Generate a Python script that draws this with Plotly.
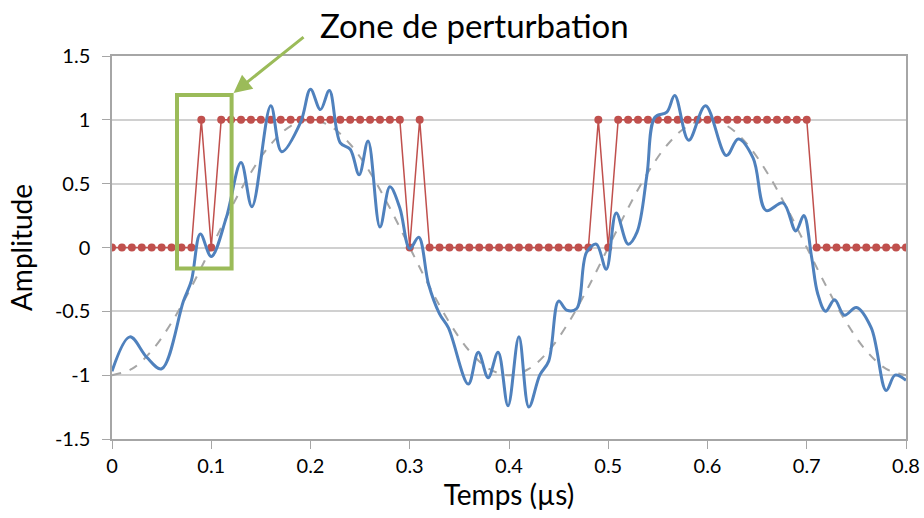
import plotly.graph_objects as go

# sampled square signal (red), every 0.01 us
t_red = [i / 100 for i in range(81)]
red_vals = ([0] * 9 + [1, 0] + [1] * 19 + [0, 1] + [0] * 17 + [1, 0] + [1] * 20 + [0] * 10)

# reference sine (gray dashed), every 0.02 us
t_ref = [i / 50 for i in range(41)]
ref_vals = [-1, -0.951, -0.809, -0.588, -0.309, 0, 0.309, 0.588, 0.809, 0.951,
            1, 0.951, 0.809, 0.588, 0.309, 0, -0.309, -0.588, -0.809, -0.951,
            -1, -0.951, -0.809, -0.588, -0.309, 0, 0.309, 0.588, 0.809, 0.951,
            1, 0.951, 0.809, 0.588, 0.309, 0, -0.309, -0.588, -0.809, -0.951, -1]

# noisy signal (blue)
t_blue = [0, 0.018, 0.035, 0.05, 0.072, 0.08, 0.089, 0.1, 0.115, 0.13, 0.141, 0.16,
          0.171, 0.19, 0.2, 0.21, 0.219, 0.23, 0.24, 0.249, 0.258, 0.27, 0.28, 0.29,
          0.3, 0.309, 0.319, 0.33, 0.339, 0.359, 0.369, 0.379, 0.389, 0.399, 0.41,
          0.42, 0.431, 0.44, 0.45, 0.458, 0.468, 0.478, 0.488, 0.498, 0.508, 0.52,
          0.529, 0.539, 0.547, 0.559, 0.567, 0.581, 0.598, 0.619, 0.631, 0.646,
          0.659, 0.676, 0.689, 0.697, 0.705, 0.711, 0.719, 0.728, 0.738, 0.75,
          0.765, 0.78, 0.789, 0.8]
blue_vals = [-0.97, -0.70, -0.86, -0.95, -0.42, -0.26, 0.105, -0.07, 0.23, 0.665, 0.32, 1.11,
             0.75, 0.98, 1.24, 1.08, 1.23, 0.82, 0.77, 0.57, 0.835, 0.16, 0.475, 0.31,
             -0.01, 0.08, -0.29, -0.52, -0.63, -1.07, -0.82, -1.02, -0.82, -1.24, -0.70,
             -1.25, -1.0, -0.89, -0.42, -0.49, -0.48, -0.04, 0.026, -0.17, 0.27, 0.026,
             0.12, 0.57, 1.02, 1.06, 1.19, 0.84, 1.11, 0.72, 0.85, 0.70,
             0.29, 0.35, 0.13, 0.25, -0.08, -0.36, -0.50, -0.41, -0.53, -0.47,
             -0.63, -1.12, -1.0, -1.04]

x_ticks = [0, 0.1, 0.2, 0.3, 0.4, 0.5, 0.6, 0.7, 0.8]
x_labels = ["0", "0.1", "0.2", "0.3", "0.4", "0.5", "0.6", "0.7", "0.8"]
y_ticks = [-1.5, -1, -0.5, 0, 0.5, 1, 1.5]
y_labels = ["-1.5", "-1", "-0.5", "0", "0.5", "1", "1.5"]

FONT = "Lato"
GREEN = "#9BBB59"

fig = go.Figure()
fig.add_trace(go.Scatter(
    x=t_ref, y=ref_vals, mode="lines", line_shape="spline",
    line=dict(color="#A6A6A6", width=2, dash="dash"),
))
fig.add_trace(go.Scatter(
    x=t_red, y=red_vals, mode="lines+markers",
    line=dict(color="#C0504D", width=1.5),
    marker=dict(color="#C0504D", size=8),
))
fig.add_trace(go.Scatter(
    x=t_blue, y=blue_vals, mode="lines", line_shape="spline",
    line=dict(color="#4F81BD", width=3),
))

# perturbation zone box
fig.add_shape(type="rect", x0=0.0655, x1=0.1205, y0=-0.164, y1=1.195,
              line=dict(color=GREEN, width=4))

# arrow + label
fig.add_annotation(x=0.1225, y=1.21, ax=0.1945, ay=1.657, axref="x", ayref="y",
                   text="", showarrow=True, arrowhead=2, arrowsize=1.2,
                   arrowwidth=3, arrowcolor=GREEN)
fig.add_annotation(x=0.259, y=1.08, xref="paper", yref="paper",
                   xanchor="left", yanchor="middle",
                   text="Zone de perturbation", showarrow=False,
                   font=dict(family=FONT, size=33, color="#000000"))

fig.update_layout(
    width=924, height=518,
    margin=dict(l=112, r=18, t=56, b=79),
    paper_bgcolor="white", plot_bgcolor="white",
    showlegend=False,
    font=dict(family=FONT, color="#000000"),
)
fig.update_xaxes(
    range=[0, 0.8], tickvals=x_ticks, ticktext=x_labels,
    showgrid=False, zeroline=False, automargin=False,
    showline=True, linecolor="#A6A6A6", linewidth=1.5, mirror=True,
    ticks="outside", ticklen=8, tickcolor="#A6A6A6",
    tickfont=dict(size=20),
    title=dict(text="Temps (µs)", font=dict(size=28), standoff=10),
)
fig.update_yaxes(
    range=[-1.5, 1.5], tickvals=y_ticks, ticktext=y_labels,
    showgrid=True, gridcolor="#D0D0D0", gridwidth=1.5, zeroline=False, automargin=False,
    showline=True, linecolor="#A6A6A6", linewidth=1.5, mirror=True,
    ticks="outside", ticklen=8, tickcolor="#A6A6A6",
    tickfont=dict(size=20), ticklabelstandoff=8,
    title=dict(text="Amplitude", font=dict(size=28), standoff=14),
)

# drop the default 8px page margin so the figure fills the window exactly
fig.write_html("out.html", config={"displayModeBar": False},
               post_script="document.body.style.margin='0';")
